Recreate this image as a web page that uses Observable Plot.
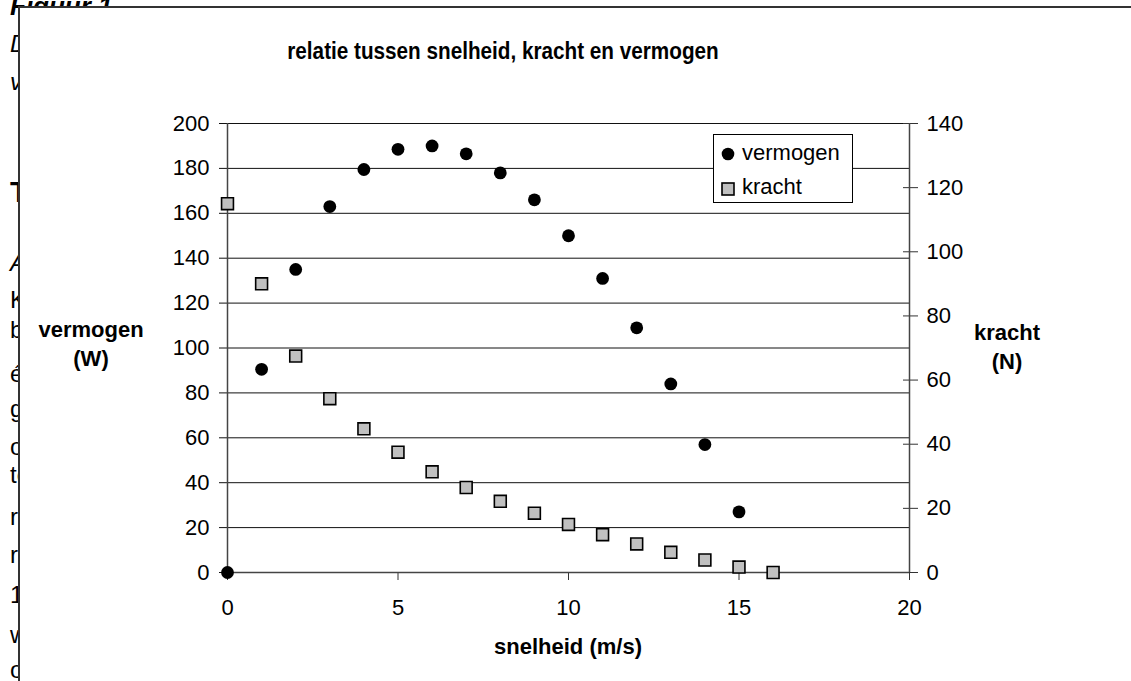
<!DOCTYPE html>
<html><head><meta charset="utf-8">
<script src="https://cdn.jsdelivr.net/npm/d3@7"></script>
<script src="https://cdn.jsdelivr.net/npm/@observablehq/plot@0.6"></script>
<style>
html,body{margin:0;padding:0;background:#fff;width:1131px;height:681px;overflow:hidden;font-family:"Liberation Sans",Arial,sans-serif;}
#page{position:relative;width:1131px;height:681px;overflow:hidden;}
.t{position:absolute;white-space:nowrap;color:#000;}
#box{position:absolute;left:18px;top:6px;width:1130px;height:700px;background:#fff;border-left:2px solid #333;border-top:2px solid #333;}
#plot{position:absolute;left:0;top:100px;}
#legend{position:absolute;left:713px;top:134px;width:138px;height:67px;border:1px solid #000;background:#fff;}
</style></head>
<body><div id="page"></div>
<script>
// ---- data ----
const speedV = [0,1,2,3,4,5,6,7,8,9,10,11,12,13,14,15];
const vermogen = [0,90.5,135,163,179.5,188.5,190,186.5,178,166,150,131,109,84,57,27];
const speedF = [0,1,2,3,4,5,6,7,8,9,10,11,12,13,14,15,16];
const kracht = [115,90,67.5,54.2,44.8,37.5,31.4,26.5,22.2,18.5,15,11.8,8.9,6.3,3.9,1.7,0];
const xTicks = [0,5,10,15,20];
const leftTicks = [0,20,40,60,80,100,120,140,160,180,200];
const rightTicks = [0,20,40,60,80,100,120,140];
const title = "relatie tussen snelheid, kracht en vermogen";
const xLabel = "snelheid (m/s)";
const yLeftLabel = ["vermogen", "(W)"];
const yRightLabel = ["kracht", "(N)"];
const legendNames = ["vermogen", "kracht"];
// background document text (cut off behind the chart)
const bgLines = [
  {text:"Figuur 1", base:15, size:26, weight:"bold", style:"italic"},
  {text:"De grafiek", base:52, size:24, style:"italic"},
  {text:"van", base:90, size:24, style:"italic"},
  {text:"Tekst", base:202, size:30, weight:"bold"},
  {text:"Als", base:271, size:24, style:"italic"},
  {text:"Kijk", base:308, size:24},
  {text:"bij", base:338, size:24},
  {text:"één", base:382, size:24},
  {text:"gaat", base:417, size:24},
  {text:"op", base:455, size:24},
  {text:"tegen", base:483, size:24},
  {text:"rond", base:525, size:24},
  {text:"rijdt", base:563, size:24},
  {text:"10", base:603, size:24},
  {text:"we", base:643, size:24},
  {text:"op", base:678, size:24}
];

const page = document.getElementById("page");
function place(parent, text, {x, base, size, weight="normal", style="normal", anchor="start", ls=0, sx=1}) {
  const d = document.createElement("div");
  d.className = "t";
  d.textContent = text;
  d.style.fontSize = size + "px";
  d.style.lineHeight = size + "px";
  d.style.fontWeight = weight;
  d.style.fontStyle = style;
  d.style.letterSpacing = ls + "px";
  d.style.left = x + "px";
  d.style.top = (base - 0.8465 * size) + "px";
  const tr = [];
  if (anchor === "middle") tr.push("translateX(-50%)");
  if (sx !== 1) tr.push(`scaleX(${sx})`);
  if (tr.length) { d.style.transform = tr.join(" "); d.style.transformOrigin = anchor === "middle" ? "50% 50%" : "0 50%"; }
  parent.appendChild(d);
  return d;
}

for (const l of bgLines) place(page, l.text, {x:10, base:l.base, size:l.size, weight:l.weight||"normal", style:l.style||"normal"});

const box = document.createElement("div");
box.id = "box";
page.appendChild(box);

place(page, title, {x:503, base:59, size:23, weight:"bold", anchor:"middle", sx:0.9});
place(page, yLeftLabel[0], {x:91, base:338, size:22, weight:"bold", anchor:"middle"});
place(page, yLeftLabel[1], {x:91, base:367, size:22, weight:"bold", anchor:"middle"});
place(page, yRightLabel[0], {x:1007, base:341, size:22, weight:"bold", anchor:"middle"});
place(page, yRightLabel[1], {x:1007, base:370, size:22, weight:"bold", anchor:"middle"});
place(page, xLabel, {x:568, base:655, size:22, weight:"bold", anchor:"middle"});

const W = 200 / 140;
const dataV = speedV.map((v, i) => ({v, P: vermogen[i]}));
const dataF = speedF.map((v, i) => ({v, F: kracht[i]}));

const chart = Plot.plot({
  width: 1131, height: 560,
  marginLeft: 227, marginRight: 222, marginTop: 23, marginBottom: 88,
  x: {domain: [0, 20], label: null},
  y: {domain: [0, 200], label: null},
  style: {fontSize: "22px", fontFamily: '"Liberation Sans", Arial, sans-serif', color: "#000", background: "transparent", overflow: "visible"},
  marks: [
    Plot.gridY(leftTicks, {stroke: "#111", strokeOpacity: 1, strokeWidth: 1}),
    Plot.axisY(leftTicks, {anchor: "left", tickSize: 8, tickPadding: 10, stroke: "#111", label: null}),
    Plot.axisX(xTicks, {anchor: "bottom", tickSize: 8, tickPadding: 19, stroke: "#333", label: null}),
    Plot.axisY(rightTicks.map(k => k * W), {anchor: "right", tickSize: 15, dx: -7, tickPadding: 9, stroke: "#333", tickFormat: d => String(Math.round(d / W)), label: null}),
    Plot.ruleX([0, 20], {stroke: "#444", strokeWidth: 1.5}),
    Plot.ruleY([0], {stroke: "#444", strokeWidth: 1.5}),
    Plot.dot(dataF, {x: "v", y: d => d.F * W, symbol: "square", r: 6.7, fill: "#c0c0c0", stroke: "#000", strokeWidth: 1.6}),
    Plot.dot(dataV, {x: "v", y: "P", r: 6.4, fill: "#000", stroke: "none"})
  ]
});
chart.id = "plot";
page.appendChild(chart);

// legend
const lg = document.createElement("div");
lg.id = "legend";
page.appendChild(lg);
const sym = `<svg width="16" height="16" style="position:absolute;left:6px;top:11px" viewBox="0 0 16 16"><circle cx="8" cy="8" r="6.3" fill="#000"/></svg>
<svg width="16" height="16" style="position:absolute;left:6px;top:46px" viewBox="0 0 16 16"><rect x="2" y="2" width="12" height="12" fill="#c0c0c0" stroke="#000" stroke-width="1.6"/></svg>`;
lg.innerHTML = sym;
place(lg, legendNames[0], {x:28, base:161 - 135, size:22});
place(lg, legendNames[1], {x:28, base:195 - 135, size:22});
</script>
</body></html>
